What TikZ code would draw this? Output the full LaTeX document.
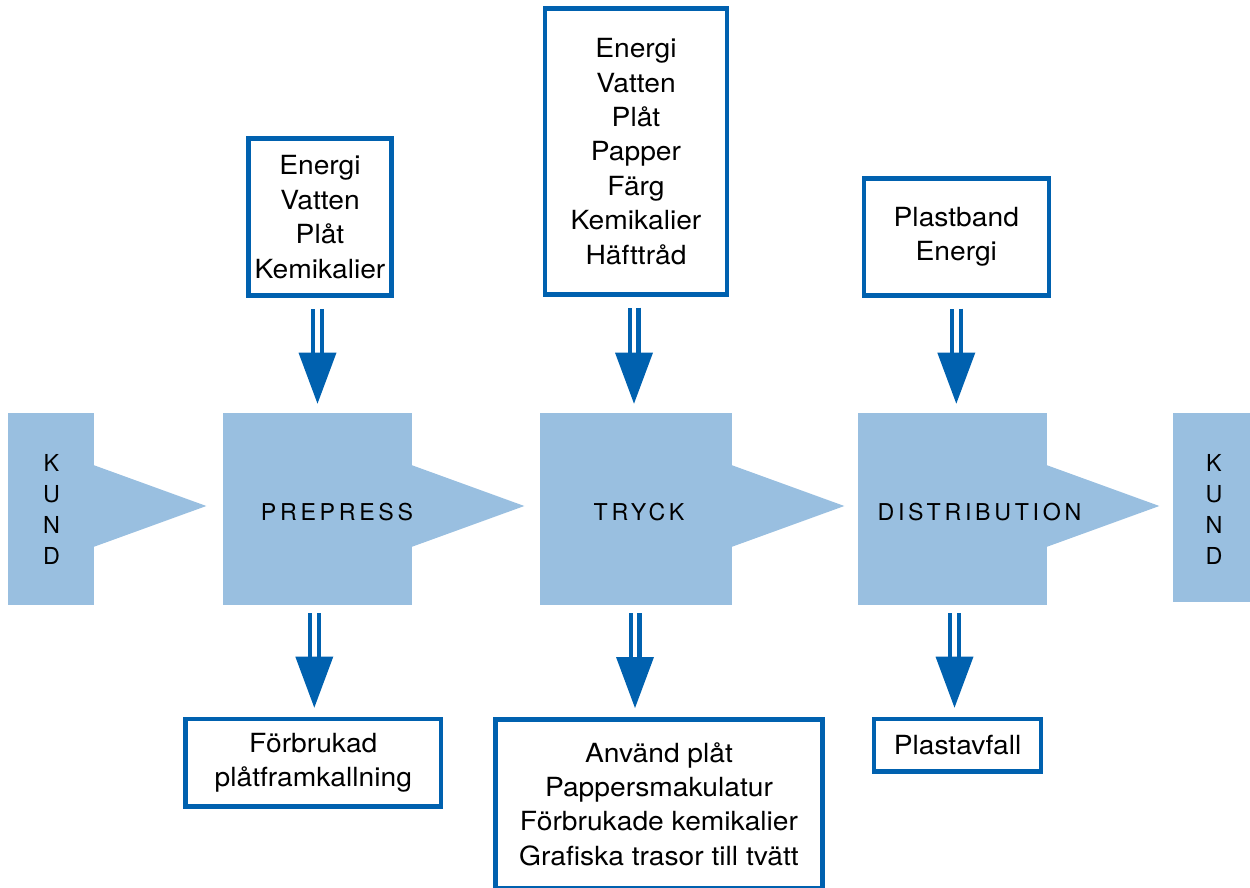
\documentclass[tikz,border=0pt]{standalone}
\usepackage{fontspec}
\setmainfont{TeX Gyre Heros}
\newfontfamily\boxfont[FakeStretch=1.07]{TeX Gyre Heros}
\newfontfamily\spacedfont[LetterSpace=16]{TeX Gyre Heros}
\usetikzlibrary{calc}
\definecolor{lblue}{RGB}{153,191,224}
\definecolor{dblue}{RGB}{0,97,175}
\newcommand\flowarrow[2]{%
  \draw[bars] (#1) -- ($(#2)+(0,-48)$);
  \fill[dblue] ($(#2)+(-19,-51)$) -- ($(#2)+(19,-51)$) -- (#2) -- cycle;}
\newcommand\pointer[1]{%
  \fill[lblue] ($(#1.east)+(-1,-44)$) -- ($(#1.east)+(112,-3)$) -- ($(#1.east)+(-1,38)$) -- cycle;}
\begin{document}
\begin{tikzpicture}[x=0.02cm,y=-0.02cm,
  proc/.style={fill=lblue, inner sep=0, minimum height=3.84cm},
  obox/.style={draw=dblue, line width=0.09cm, fill=white, inner sep=0, align=center,
    font=\boxfont\fontsize{15}{19.6}\selectfont},
  bars/.style={draw=dblue, double=white, line width=0.086cm, double distance=0.088cm},
  plbl/.style={font=\spacedfont\fontsize{13.2}{16}\selectfont, inner sep=0},
  kund/.style={align=center, font=\fontsize{13.3}{17.6}\selectfont, inner sep=0}]
\useasboundingbox (0,0) rectangle (1250,888);

% process blocks
\node[proc, minimum width=1.72cm] (kundL) at (51,509) {};
\node[proc, minimum width=3.78cm] (pre) at (317.5,509) {};
\node[proc, minimum width=3.84cm] (tryck) at (636,509) {};
\node[proc, minimum width=3.78cm] (dist) at (952.5,509) {};
\node[proc, minimum width=1.54cm, minimum height=3.78cm] (kundR) at (1211.5,507.5) {};
\pointer{kundL}
\pointer{pre}
\pointer{tryck}
\pointer{dist}

\node[kund] (kundLtxt) at (51.5,509.5) {K\\U\\N\\D};
\node[kund] (kundRtxt) at (1214,509.5) {K\\U\\N\\D};
\node[plbl] (pretxt) at (337,512) {PREPRESS};
\node[plbl] (tryckxt) at (639,512) {TRYCK};
\node[plbl] (disttxt) at (979.5,512) {DISTRIBUTION};

% input boxes
\node[obox, minimum width=2.87cm, minimum height=3.15cm] (in1) at (320,217)
  {Energi\\Vatten\\Plåt\\Kemikalier};
\node[obox, minimum width=3.64cm, minimum height=5.72cm] (in2) at (636,151.5)
  {Energi\\Vatten\\Plåt\\Papper\\Färg\\Kemikalier\\Häfttråd};
\node[obox, minimum width=3.70cm, minimum height=2.34cm] (in3) at (956.3,236.8)
  {Plastband\\Energi};

% output boxes
\node[obox, minimum width=5.11cm, minimum height=1.756cm] (out1) at (313.3,762.8)
  {Förbrukad\\plåtframkallning};
\node[obox, minimum width=6.55cm, minimum height=3.39cm] (out2) at (659,804)
  {Använd plåt\\Pappersmakulatur\\Förbrukade kemikalier\\Grafiska trasor till tvätt};
\node[obox, minimum width=3.34cm, minimum height=1.056cm] (out3) at (957.5,745.3)
  {Plastavfall};

% arrows in
\flowarrow{$(in1.south -| pre.north)+(0,11)$}{$(pre.north)+(0,-9)$}
\flowarrow{$(in2.south)+(-2,11)$}{$(in2.south |- tryck.north)+(-2,-9)$}
\flowarrow{$(in3.south)+(0,11)$}{$(in3.south |- dist.north)+(0,-9)$}

% arrows out
\flowarrow{$(out1.north |- pre.south)+(1,8)$}{$(out1.north)+(1,-9)$}
\flowarrow{$(tryck.south)+(-1,8)$}{$(tryck.south |- out2.north)+(-1,-9)$}
\flowarrow{$(out3.north |- dist.south)+(-3,8)$}{$(out3.north)+(-3,-9)$}
\end{tikzpicture}
\end{document}
